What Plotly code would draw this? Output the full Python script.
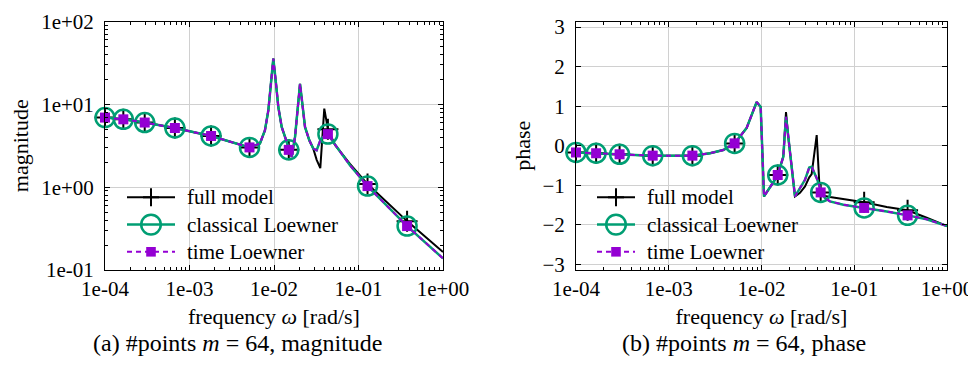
import plotly.graph_objects as go

# ---------------- data ----------------
freq_mag = [1.0e-4, 1.648e-4, 2.951e-4, 6.714e-4, 1.799e-3, 5.129e-3, 6.823e-3,
            7.816e-3, 8.570e-3, 9.141e-3, 9.817e-3, 1.057e-2, 1.125e-2, 1.233e-2,
            1.387e-2, 1.496e-2, 1.622e-2, 1.774e-2, 1.905e-2, 2.032e-2, 2.188e-2,
            2.328e-2, 2.618e-2, 2.917e-2, 3.199e-2, 3.532e-2, 3.936e-2, 4.345e-2,
            5.272e-2, 7.925e-2, 0.1279, 0.3758, 1.0]
mag_full = [6.92, 6.59, 6.03, 5.18, 4.15, 3.02, 3.37, 4.86, 8.47, 17.7, 35.6,
            17.7, 9.27, 5.33, 3.68, 2.82, 2.32, 4.04, 8.47, 17.7, 9.27, 5.33,
            3.68, 2.92, 2.14, 1.70, 8.87, 5.01, 3.24, 1.91, 1.09, 0.389, 0.165]
mag_classical = [6.92, 6.59, 6.03, 5.18, 4.15, 3.02, 3.37, 4.86, 8.47, 17.7, 35.6,
                 17.7, 9.27, 5.33, 3.68, 2.82, 2.32, 4.04, 8.47, 17.7, 9.27, 5.33,
                 3.68, 2.92, 2.79, 3.68, 4.17, 4.37, 3.27, 1.84, 1.03, 0.339, 0.138]
mag_time = [6.92, 6.59, 6.03, 5.18, 4.15, 3.02, 3.37, 4.86, 8.47, 17.7, 35.6,
            17.7, 9.27, 5.33, 3.68, 2.82, 2.32, 4.04, 8.47, 17.7, 9.27, 5.33,
            3.68, 2.92, 2.79, 3.68, 4.17, 4.37, 3.27, 1.84, 1.03, 0.339, 0.138]
marks_mag = [0, 1, 2, 3, 4, 5, 15, 27, 30, 31]

freq_phase = [1.0e-4, 1.648e-4, 2.951e-4, 6.714e-4, 1.799e-3, 2.786e-3, 3.873e-3,
              5.129e-3, 6.918e-3, 8.872e-3, 9.795e-3, 1.064e-2, 1.396e-2, 1.496e-2,
              1.718e-2, 1.837e-2, 1.945e-2, 2.296e-2, 2.600e-2, 2.944e-2, 3.273e-2,
              3.475e-2, 3.936e-2, 4.198e-2, 4.345e-2, 4.842e-2, 5.470e-2, 7.621e-2,
              0.1279, 0.2239, 0.3758, 0.6039, 1.0]
phase_full = [-0.17, -0.19, -0.216, -0.25, -0.25, -0.19, -0.108, 0.06, 0.45, 1.106,
              0.98, -1.28, -0.86, -0.74, -0.276, 0.854, 0.226, -1.28, -1.19, -1.03,
              -0.80, -0.72, 0.27, -0.945, -1.18, -1.27, -1.297, -1.35, -1.43, -1.55,
              -1.633, -1.82, -2.03]
phase_classical = [-0.17, -0.19, -0.216, -0.25, -0.25, -0.19, -0.108, 0.06, 0.45, 1.106,
                   0.98, -1.28, -0.86, -0.74, -0.276, 0.729, 0.226, -1.28, -1.07, -0.862,
                   -0.55, -0.53, -0.82, -1.0, -1.18, -1.32, -1.407, -1.49, -1.573, -1.66,
                   -1.76, -1.86, -2.03]
phase_time = [-0.17, -0.19, -0.216, -0.25, -0.25, -0.19, -0.108, 0.06, 0.45, 1.106,
              0.98, -1.28, -0.86, -0.74, -0.276, 0.729, 0.226, -1.28, -1.07, -0.862,
              -0.55, -0.53, -0.82, -1.0, -1.18, -1.32, -1.407, -1.49, -1.573, -1.66,
              -1.76, -1.86, -2.03]
marks_phase = [0, 1, 2, 3, 4, 7, 13, 24, 28, 30]

x_tickvals = [1e-4, 1e-3, 1e-2, 1e-1, 1e0]
x_ticktext = ["1e-04", "1e-03", "1e-02", "1e-01", "1e+00"]
mag_tickvals = [1e-1, 1e0, 1e1, 1e2]
mag_ticktext = ["1e-01", "1e+00", "1e+01", "1e+02"]
phase_tickvals = [-3, -2, -1, 0, 1, 2, 3]
phase_ticktext = ["\u22123", "\u22122", "\u22121", "0", "1", "2", "3"]
x_minor = [m * 10.0 ** e for e in range(-4, 0) for m in range(2, 10)]
mag_minor = [m * 10.0 ** e for e in range(-1, 2) for m in range(2, 10)]

series_names = ["full model", "classical Loewner", "time Loewner"]
captions = ["(a) #points <i>m</i> = 64, magnitude", "(b) #points <i>m</i> = 64, phase"]

# ---------------- style ----------------
FONT = "Liberation Serif, DejaVu Serif, serif"
BLACK = "#000000"
GREEN = "#009e73"
PURPLE = "#9400d3"
OFF = 8                      # page body margin of the html page
W, H = 976 - OFF, 366 - OFF


def px(xp):
    return (xp - OFF) / W


def py(yp):
    return 1 - (yp - OFF) / H


styles = [
    dict(line=dict(color=BLACK, width=2),
         marker=dict(symbol="cross-thin", size=15, color=BLACK, line=dict(width=2, color=BLACK))),
    dict(line=dict(color=GREEN, width=2.5),
         marker=dict(symbol="circle-open", size=19, color=GREEN, line=dict(width=2.5, color=GREEN))),
    dict(line=dict(color=PURPLE, width=2, dash="5px,4px"),
         marker=dict(symbol="square", size=10, color=PURPLE, line=dict(width=0))),
]

fig = go.Figure()


def add_panel(freq, series, marks, xa, ya):
    for (name, vals, st) in zip(series_names, series, styles):
        fig.add_trace(go.Scatter(x=freq, y=vals, mode="lines", line=st["line"], name=name,
                                 xaxis=xa, yaxis=ya, showlegend=False, hoverinfo="skip"))
        fig.add_trace(go.Scatter(x=[freq[i] for i in marks], y=[vals[i] for i in marks],
                                 mode="markers", marker=st["marker"], cliponaxis=False, name=name,
                                 xaxis=xa, yaxis=ya, showlegend=False, hoverinfo="skip"))


add_panel(freq_mag, [mag_full, mag_classical, mag_time], marks_mag, "x", "y")
add_panel(freq_phase, [phase_full, phase_classical, phase_time], marks_phase, "x2", "y2")

# empty traces so that the mirrored tick axes (top / right) get drawn
for xa, ya in [("x3", "y"), ("x", "y3"), ("x4", "y2"), ("x2", "y4")]:
    fig.add_trace(go.Scatter(x=[None], y=[None], xaxis=xa, yaxis=ya, showlegend=False,
                             hoverinfo="skip"))

ydom = [py(270), py(21.5)]
dom1 = [px(105), px(443)]
dom2 = [px(576), px(947)]
TICKFONT = dict(family=FONT, size=21, color="black")
TITLEFONT = dict(family=FONT, size=22, color="black")
LEGFONT = dict(family=FONT, size=21, color="black")
minor_x = dict(ticks="inside", ticklen=3, tickcolor="black", tickwidth=1, showgrid=False,
               tickmode="array", tickvals=x_minor)
minor_mag = dict(ticks="inside", ticklen=3, tickcolor="black", tickwidth=1, showgrid=False,
                 tickmode="array", tickvals=mag_minor)

base = dict(showline=True, linecolor="black", linewidth=1, mirror=True,
            ticks="inside", ticklen=5, tickcolor="black", tickwidth=1,
            showgrid=True, gridcolor="#d0d0d0", gridwidth=1, zeroline=False,
            automargin=False, tickfont=TICKFONT)
xmain = dict(base, type="log", range=[-4, 0], tickvals=x_tickvals, ticktext=x_ticktext,
             minor=minor_x, ticklabelstandoff=0,
             title=dict(text="frequency <i>ω</i> [rad/s]", font=TITLEFONT, standoff=8))
mirror_ax = dict(showline=False, ticks="inside", ticklen=5, tickcolor="black", tickwidth=1,
                 showgrid=False, zeroline=False, showticklabels=False, automargin=False)

fig.update_layout(
    width=W, height=H, margin=dict(l=0, r=0, t=0, b=0, autoexpand=False),
    paper_bgcolor="white", plot_bgcolor="white", showlegend=False,
    xaxis=dict(xmain, domain=dom1, anchor="y"),
    yaxis=dict(base, type="log", range=[-1, 2], domain=ydom, anchor="x",
               tickvals=mag_tickvals, ticktext=mag_ticktext, minor=minor_mag,
               ticklabelstandoff=6,
               title=dict(text="magnitude", font=TITLEFONT, standoff=16)),
    xaxis2=dict(xmain, domain=dom2, anchor="y2"),
    yaxis2=dict(base, range=[-3.1416, 3.1416], domain=ydom, anchor="x2",
                tickvals=phase_tickvals, ticktext=phase_ticktext, ticklabelstandoff=6,
                title=dict(text="phase", font=TITLEFONT, standoff=5)),
    xaxis3=dict(mirror_ax, type="log", range=[-4, 0], tickvals=x_tickvals, minor=minor_x,
                overlaying="x", side="top", anchor="y"),
    yaxis3=dict(mirror_ax, type="log", range=[-1, 2], tickvals=mag_tickvals, minor=minor_mag,
                overlaying="y", side="right", anchor="x"),
    xaxis4=dict(mirror_ax, type="log", range=[-4, 0], tickvals=x_tickvals, minor=minor_x,
                overlaying="x2", side="top", anchor="y2"),
    yaxis4=dict(mirror_ax, range=[-3.1416, 3.1416], tickvals=phase_tickvals,
                overlaying="y2", side="right", anchor="x2"),
)

# ---------------- legends (white box above the grid, samples + text) ----------------
legend_rows = [197.3, 224.6, 251.8]
legends = [dict(box=(122, 345), line=(127, 175), text_x=185),
           dict(box=(592, 808), line=(597, 635), text_x=645)]
for lg in legends:
    fig.add_shape(type="rect", xref="paper", yref="paper", layer="between",
                  x0=px(lg["box"][0]), x1=px(lg["box"][1]), y0=py(263), y1=py(183),
                  fillcolor="white", line=dict(width=0))
    lx0, lx1 = lg["line"]
    cx = (lx0 + lx1) / 2
    for (name, st, ry) in zip(series_names, styles, legend_rows):
        ln = st["line"]
        fig.add_shape(type="line", xref="paper", yref="paper", layer="above",
                      x0=px(lx0), x1=px(lx1), y0=py(ry), y1=py(ry),
                      line=dict(color=ln["color"], width=ln["width"], dash=ln.get("dash", "solid")))
        mk = st["marker"]
        if mk["symbol"] == "cross-thin":
            fig.add_shape(type="line", xref="paper", yref="paper", layer="above",
                          x0=px(cx - 8), x1=px(cx + 8), y0=py(ry), y1=py(ry),
                          line=dict(color=BLACK, width=2))
            fig.add_shape(type="line", xref="paper", yref="paper", layer="above",
                          x0=px(cx), x1=px(cx), y0=py(ry - 9), y1=py(ry + 9),
                          line=dict(color=BLACK, width=2))
        elif mk["symbol"] == "circle-open":
            r = 9.8
            fig.add_shape(type="circle", xref="paper", yref="paper", layer="above",
                          x0=px(cx - r), x1=px(cx + r), y0=py(ry + r), y1=py(ry - r),
                          fillcolor="rgba(0,0,0,0)", line=dict(color=GREEN, width=2.5))
        else:
            s = 4.8
            fig.add_shape(type="rect", xref="paper", yref="paper", layer="above",
                          x0=px(cx - s), x1=px(cx + s), y0=py(ry + s), y1=py(ry - s),
                          fillcolor=PURPLE, line=dict(width=0))
        fig.add_annotation(x=px(lg["text_x"]), y=py(ry), xref="paper", yref="paper",
                           text=name, showarrow=False, xanchor="left", yanchor="middle",
                           font=LEGFONT)

for cx, text in zip([px(238), px(744)], captions):
    fig.add_annotation(x=cx, y=py(343), xref="paper", yref="paper", text=text,
                       showarrow=False, xanchor="center", yanchor="middle",
                       font=dict(family=FONT, size=24, color="black"))

fig.write_html("out.html")
